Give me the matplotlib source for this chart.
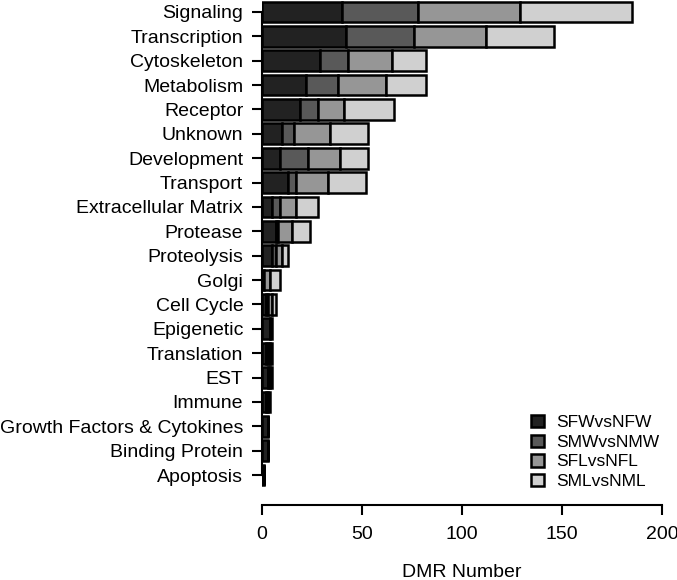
import matplotlib
matplotlib.use("Agg")
import matplotlib.pyplot as plt
import numpy as np

categories = ["Signaling", "Transcription", "Cytoskeleton", "Metabolism", "Receptor",
              "Unknown", "Development", "Transport", "Extracellular Matrix", "Protease",
              "Proteolysis", "Golgi", "Cell Cycle", "Epigenetic", "Translation", "EST",
              "Immune", "Growth Factors & Cytokines", "Binding Protein", "Apoptosis"]
series_names = ["SFWvsNFW", "SMWvsNMW", "SFLvsNFL", "SMLvsNML"]
sfw = [40, 42, 29, 22, 19, 10, 9, 13, 5, 7, 5, 1, 2, 4, 2, 3, 2, 3, 3, 1]
smw = [38, 34, 14, 16, 9, 6, 14, 4, 4, 1, 2, 0, 1, 0, 1, 0, 0, 0, 0, 0]
sfl = [51, 36, 22, 24, 13, 18, 16, 16, 8, 7, 3, 3, 2, 0, 1, 1, 1, 0, 0, 0]
sml = [56, 34, 17, 20, 25, 19, 14, 19, 11, 9, 3, 5, 2, 1, 1, 1, 1, 0, 0, 0]
colors = ["#222222", "#595959", "#969696", "#d0d0d0"]
xticks = [0, 50, 100, 150, 200]

plt.rcParams['font.family'] = ['Liberation Sans', 'DejaVu Sans']

W, H = 677, 580
fig = plt.figure(figsize=(W / 100, H / 100), dpi=100)
ax = fig.add_axes([262 / W, 75 / H, 400 / W, 505 / H])

y = np.arange(len(categories))
left = np.zeros(len(categories))
for vals, col, name in zip([sfw, smw, sfl, sml], colors, series_names):
    v = np.array(vals, dtype=float)
    ax.barh(y, v, left=left, height=0.85, color=col, edgecolor="black",
            linewidth=1.8, label=name)
    left += v

ax.set_xlim(0, 200)
ax.set_ylim(20.23, -0.49)
ax.set_yticks(y)
ax.set_yticklabels(categories, fontsize=14)
ax.set_xticks(xticks)
ax.set_xticklabels([str(t) for t in xticks], fontsize=14)
ax.set_xlabel("DMR Number", fontsize=14, labelpad=15)

for s in ["top", "right"]:
    ax.spines[s].set_visible(False)
ax.spines["left"].set_bounds(0, 19)
ax.spines["bottom"].set_bounds(0, 200)
ax.spines["left"].set_linewidth(1.5)
ax.spines["bottom"].set_linewidth(1.5)
ax.tick_params(axis="y", length=7, width=1.5, pad=6.5)
ax.tick_params(axis="x", length=7, width=1.5, pad=8)

leg = ax.legend(loc="upper left", bbox_to_anchor=(531 / W, (H - 415) / H),
                bbox_transform=fig.transFigure, frameon=False, fontsize=12.5,
                handlelength=0.72, handleheight=0.72, handletextpad=0.75,
                labelspacing=0.25, borderpad=0, borderaxespad=0)

fig.savefig("out.png", dpi=100)
